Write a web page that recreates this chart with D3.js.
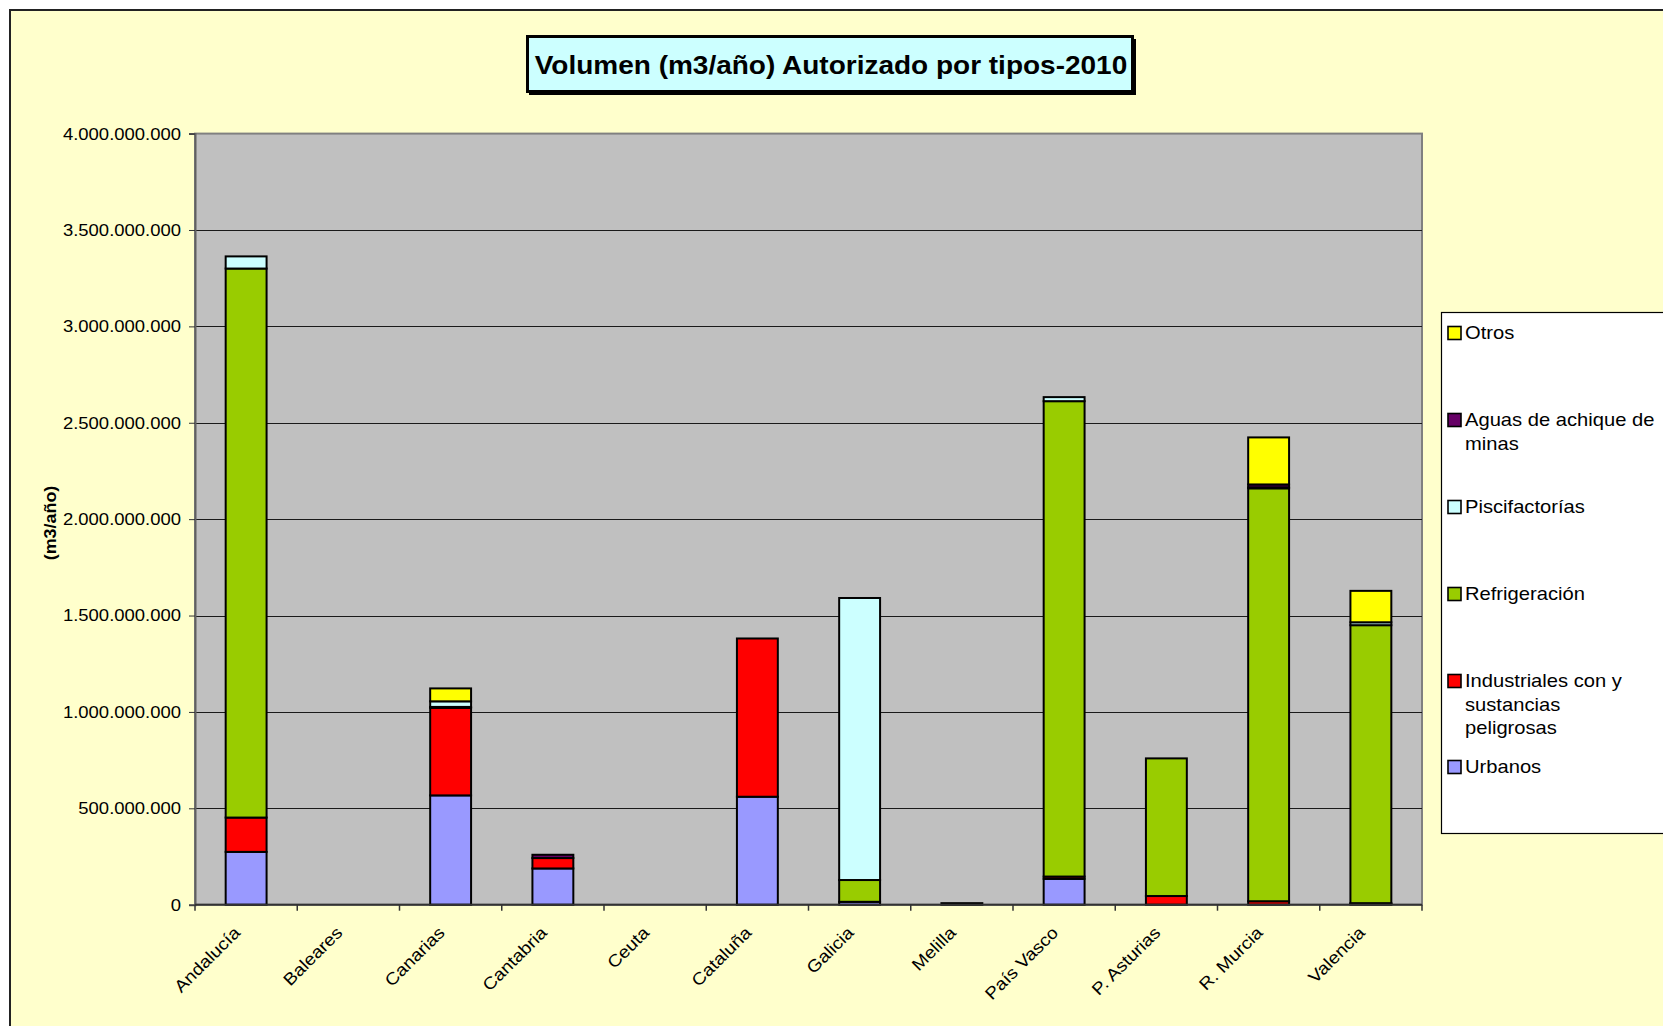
<!DOCTYPE html>
<html><head><meta charset="utf-8">
<script src="https://cdn.jsdelivr.net/npm/d3@7"></script>
<style>
html,body{margin:0;padding:0;background:#fff;}
svg{display:block;font-family:"Liberation Sans",Arial,Helvetica,sans-serif;}
</style></head>
<body>
<svg id="chart" width="1663" height="1026"></svg>
<script>
// ---- Data (m3/año) ----
const categories = ["Andalucía","Baleares","Canarias","Cantabria","Ceuta","Cataluña","Galicia","Melilla","País Vasco","P. Asturias","R. Murcia","Valencia"];
const seriesNames = ["Urbanos","Industriales con y sustancias peligrosas","Refrigeración","Piscifactorías","Aguas de achique de minas","Otros"];
const urbanos        = [274e6, 0, 567e6, 188e6, 0, 560e6, 15e6, 8e6, 134e6, 0, 0, 4e6];
const industriales   = [178e6, 0, 454e6, 54e6, 0, 821e6, 0, 0, 12e6, 45e6, 18e6, 4e6];
const refrigeracion  = [2848e6, 0, 5e6, 0, 0, 0, 113e6, 0, 2466e6, 714e6, 2142e6, 1442e6];
const piscifactorias = [63e6, 0, 29e6, 0, 0, 0, 1463e6, 0, 21e6, 0, 5e6, 15e6];
const aguasMinas     = [0, 0, 0, 17e6, 0, 0, 0, 0, 0, 0, 15e6, 0];
const otros          = [0, 0, 67e6, 0, 0, 0, 0, 0, 0, 0, 244e6, 163e6];
const yTicks = [0, 500e6, 1000e6, 1500e6, 2000e6, 2500e6, 3000e6, 3500e6, 4000e6];
const titleText = "Volumen (m3/año) Autorizado por tipos-2010";
const yTitle = "(m3/año)";
const legendLines = {
  "Otros": ["Otros"],
  "Aguas de achique de minas": ["Aguas de achique de", "minas"],
  "Piscifactorías": ["Piscifactorías"],
  "Refrigeración": ["Refrigeración"],
  "Industriales con y sustancias peligrosas": ["Industriales con y", "sustancias", "peligrosas"],
  "Urbanos": ["Urbanos"]
};
const colors = ["#9999FF","#FF0000","#99CC00","#CCFFFF","#660066","#FFFF00"];

const seriesData = [urbanos, industriales, refrigeracion, piscifactorias, aguasMinas, otros];
const rows = categories.map((c,i)=>{
  const r = {cat:c};
  seriesNames.forEach((s,j)=> r[s] = seriesData[j][i]);
  return r;
});

const SX = 1.12; // horizontal text stretch of the original rendering
const svg = d3.select("#chart");

// chart area background and border
svg.append("rect").attr("x",10).attr("y",10).attr("width",1700).attr("height",1100)
  .attr("fill","#FFFFCC").attr("stroke","#222").attr("stroke-width",2);

const X0 = 195, X1 = 1422, Y0 = 133.6, Y1 = 904.7;
const x = d3.scaleBand().domain(categories).range([X0,X1]).paddingInner(0.6).paddingOuter(0.3);
const y = d3.scaleLinear().domain([0,4e9]).range([Y1,Y0]);

// plot area
svg.append("rect").attr("x",X0).attr("y",Y0).attr("width",X1-X0).attr("height",Y1-Y0)
  .attr("fill","#C0C0C0").attr("stroke","#808080").attr("stroke-width",2);

// gridlines
svg.append("g").selectAll("line").data(yTicks.filter(t=>t>0 && t<4e9)).join("line")
  .attr("x1",X0).attr("x2",X1).attr("y1",d=>Math.round(y(d))+0.5).attr("y2",d=>Math.round(y(d))+0.5)
  .attr("stroke","#1a1a1a").attr("stroke-width",1.2);

// y axis
const fmt = d => d3.format(",")(d).replace(/,/g,".");
const yAxis = svg.append("g").attr("transform",`translate(${X0},0)`)
  .call(d3.axisLeft(y).tickValues(yTicks).tickSize(6).tickFormat(""));
yAxis.select(".domain").attr("stroke","#606060").attr("stroke-width",2);
yAxis.selectAll(".tick line").attr("stroke","#333");
svg.append("g").selectAll("text").data(yTicks).join("text")
  .attr("transform",d=>`translate(181,${y(d)}) scale(${SX},1)`)
  .attr("text-anchor","end").attr("dy","0.36em")
  .attr("font-size",16.5).attr("fill","#000").text(fmt);

// y title
svg.append("text").attr("transform",`translate(56,523) rotate(-90) scale(${SX},1)`)
  .attr("text-anchor","middle").attr("font-size",16).attr("font-weight","bold").text(yTitle);

// stacked bars
const stack = d3.stack().keys(seriesNames)(rows);
svg.append("g").selectAll("g").data(stack).join("g")
  .attr("fill",(d,i)=>colors[i])
  .selectAll("rect").data(d=>d.filter(s=>s[1]-s[0]>0)).join("rect")
  .attr("x",d=>x(d.data.cat)).attr("width",x.bandwidth())
  .attr("y",d=>y(d[1])).attr("height",d=>Math.max(0,y(d[0])-y(d[1])))
  .attr("stroke","#000").attr("stroke-width",2);

// x axis baseline and ticks
const step = x.step();
svg.append("line").attr("x1",X0).attr("x2",X1).attr("y1",Y1).attr("y2",Y1).attr("stroke","#333").attr("stroke-width",2);
svg.append("g").selectAll("line").data(d3.range(categories.length+1)).join("line")
  .attr("x1",i=>X0+i*step).attr("x2",i=>X0+i*step).attr("y1",Y1).attr("y2",Y1+6)
  .attr("stroke","#333").attr("stroke-width",1.5);

// x labels
svg.append("g").selectAll("text").data(categories).join("text")
  .attr("transform",d=>`translate(${x(d)+x.bandwidth()/2-5},${Y1+29}) rotate(-45) scale(${SX},1)`)
  .attr("text-anchor","end").attr("font-size",17).attr("fill","#000").text(d=>d);

// title box
svg.append("rect").attr("x",529).attr("y",39).attr("width",607).attr("height",56).attr("fill","#000");
svg.append("rect").attr("x",527.5).attr("y",36.5).attr("width",605).attr("height",55)
  .attr("fill","#CCFFFF").attr("stroke","#000").attr("stroke-width",3);
svg.append("text").attr("transform",`translate(831,74) scale(${SX},1)`)
  .attr("text-anchor","middle").attr("font-size",25).attr("font-weight","bold").text(titleText);

// legend
const lg = svg.append("g");
lg.append("rect").attr("x",1441.5).attr("y",312.5).attr("width",300).attr("height",521)
  .attr("fill","#fff").attr("stroke","#000").attr("stroke-width",1.2);
const legendOrder = seriesNames.slice().reverse();
const legendY = [333, 420, 507, 594, 681, 767];
legendOrder.forEach((s,i)=>{
  const ci = seriesNames.indexOf(s);
  const cy = legendY[i];
  lg.append("rect").attr("x",1448).attr("y",cy-6.5).attr("width",13).attr("height",13)
    .attr("fill",colors[ci]).attr("stroke","#000").attr("stroke-width",1.6);
  legendLines[s].forEach((ln,k)=>{
    lg.append("text").attr("transform",`translate(1465,${cy+k*23.5}) scale(${SX},1)`)
      .attr("dy","0.36em").attr("font-size",18).attr("fill","#000").text(ln);
  });
});
</script>
</body></html>
